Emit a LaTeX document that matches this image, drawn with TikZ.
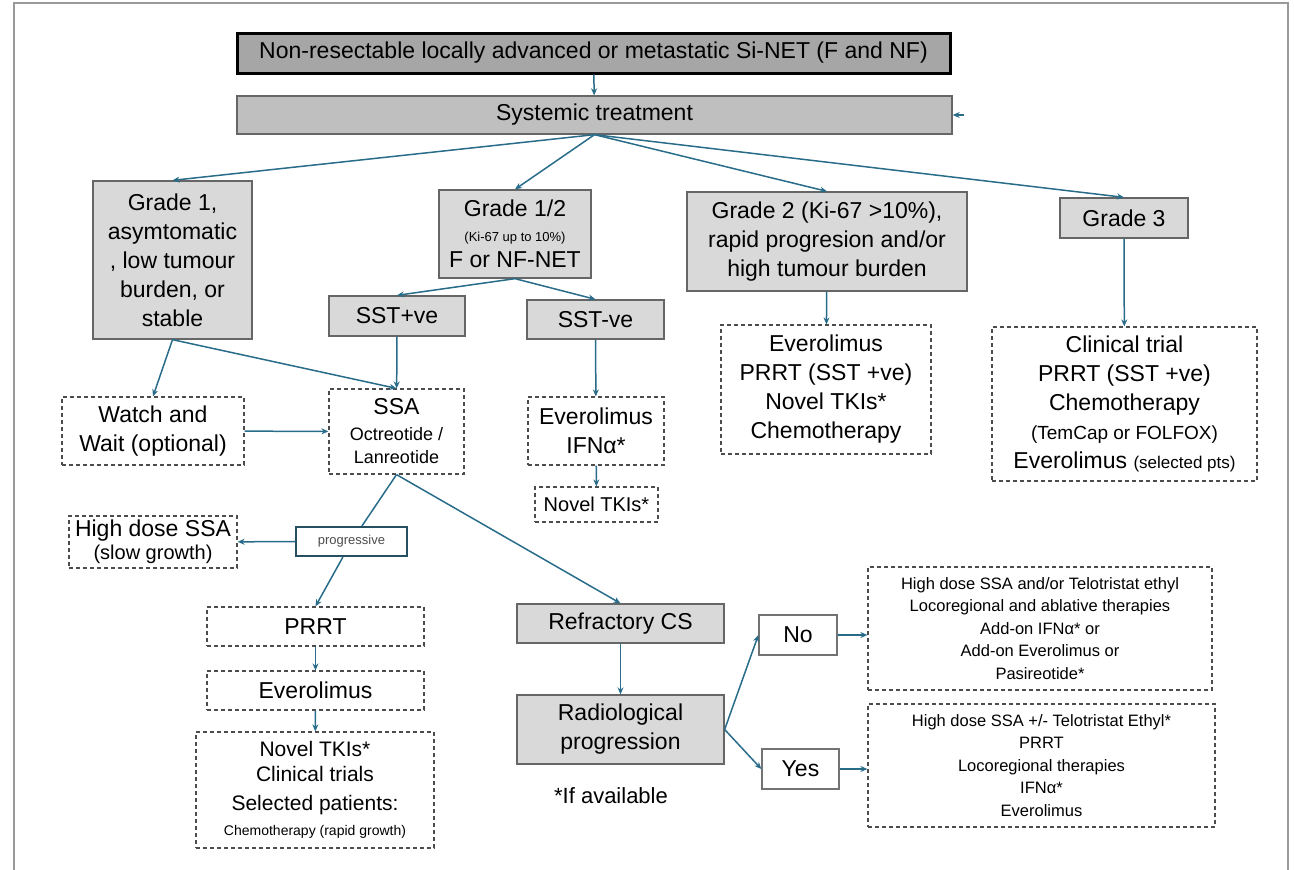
\documentclass[tikz,border=0pt]{standalone}
\usepackage{fontspec}
\setmainfont{Liberation Sans}
\usetikzlibrary{arrows.meta}
\definecolor{arrowteal}{RGB}{40,108,138}
\definecolor{progteal}{RGB}{38,80,96}
\newcommand{\fsz}[2]{\fontsize{#1}{#2}\selectfont}
\begin{document}
\begin{tikzpicture}[x=1pt,y=-1pt,>={Stealth[length=7pt,width=6pt]}]
	\tikzstyle{greybox}=[draw=black!60,fill=black!15,line width=1.3pt,align=center,inner sep=0pt,font=\fsz{23}{29}]
	\tikzstyle{dashbox}=[draw=black!70,dashed,dash pattern=on 4pt off 3pt,line width=1.2pt,align=center,inner sep=0pt,font=\fsz{23}{29}]
	\tikzstyle{whitebox}=[draw=black!55,fill=white,line width=1.3pt,align=center,inner sep=0pt,font=\fsz{23}{29}]
	\tikzstyle{edge}=[draw=arrowteal,line width=1.5pt,->]
	\tikzstyle{line}=[draw=arrowteal,line width=1.5pt]

	\useasboundingbox (0,0) rectangle (1294,870);
	% frame
	\draw[black!40,line width=2pt] (14,875) -- (14,3) -- (1288,3) -- (1288,875);

	\begin{scope}
	\node [greybox,draw=black,line width=3pt,fill=black!35,minimum width=713pt,minimum height=40pt] (top) at (593.5,53) {Non-resectable locally advanced or metastatic Si-NET (F and NF)};
	\node [greybox,fill=black!25,minimum width=715pt,minimum height=38pt] (sys) at (594.5,115) {Systemic treatment};
	\coordinate (stub) at (964,115);

	\node [greybox,minimum width=159pt,minimum height=158pt] (g1) at (172.5,260) {Grade 1,\\asymtomatic\\, low tumour\\burden, or\\stable};
	\node [greybox,minimum width=152pt,minimum height=88pt] (g12) at (515,234) {Grade 1/2\\[-4pt]{\fsz{13}{16}(Ki-67 up to 10\%)}\\[-3pt]F or NF-NET};
	\node [greybox,minimum width=280pt,minimum height=99pt] (g2) at (827,241.5) {Grade 2 (Ki-67 >10\%),\\rapid progresion and/or\\high tumour burden};
	\node [greybox,minimum width=128pt,minimum height=40pt] (g3) at (1124,218) {Grade 3};

	\node [greybox,minimum width=136pt,minimum height=40pt] (sstp) at (397,316) {SST+ve};
	\node [greybox,minimum width=137pt,minimum height=39pt] (sstn) at (595.5,319.5) {SST-ve};

	\node [dashbox,minimum width=210pt,minimum height=129pt] (g2tx) at (826,389.5) {Everolimus\\PRRT (SST +ve)\\Novel TKIs*\\Chemotherapy};
	\node [dashbox,minimum width=265pt,minimum height=154pt] (g3tx) at (1124.5,404) {Clinical trial\\PRRT (SST +ve)\\Chemotherapy\\\fsz{19}{29}(TemCap or FOLFOX)\\\fsz{23}{29}Everolimus \fsz{17}{29}(selected pts)};

	\node [dashbox,minimum width=182pt,minimum height=68pt] (watch) at (153,431) {Watch and\\Wait (optional)};
	\node [dashbox,minimum width=135pt,minimum height=85pt] (ssa) at (396.5,431.5) {SSA\\[-3pt]\fsz{18}{22}Octreotide /\\[-6pt]\fsz{18}{22}Lanreotide};
	\node [dashbox,minimum width=136pt,minimum height=68pt] (evif) at (596,431) {Everolimus\\IFNα*};
	\node [dashbox,minimum width=123pt,minimum height=35pt,font=\fsz{20}{24}] (tki1) at (596.5,504.5) {Novel TKIs*};

	\node [dashbox,minimum width=168pt,minimum height=52pt] (hdssa) at (153,542) {High dose SSA\\[-6pt]\fsz{20}{22}(slow growth)};
	\node [whitebox,draw=progteal,line width=2pt,minimum width=111pt,minimum height=29pt,font=\fsz{13}{16},text=black!70] (prog) at (351.5,541.5) {progressive};
	\node [dashbox,minimum width=217pt,minimum height=39pt] (prrt) at (315.5,626.5) {PRRT};
	\node [dashbox,minimum width=217pt,minimum height=39pt] (evero) at (315.5,690.5) {Everolimus};
	\node [dashbox,minimum width=238pt,minimum height=116pt,font=\fsz{21}{25}] (tki2) at (315,790) {Novel TKIs*\\Clinical trials\\[4pt]Selected patients:\\\fsz{14}{22}Chemotherapy (rapid growth)};

	\node [greybox,minimum width=207pt,minimum height=39pt] (refr) at (620.5,623.5) {Refractory CS};
	\node [greybox,minimum width=207pt,minimum height=69pt] (radio) at (620.5,729.5) {Radiological\\progression};
	\node [font=\fsz{22}{26}] (avail) at (611,796) {*If available};

	\node [whitebox,minimum width=78pt,minimum height=40pt] (no) at (798,635) {No};
	\node [whitebox,minimum width=77pt,minimum height=40pt] (yes) at (800.5,769) {Yes};
	\node [dashbox,minimum width=344pt,minimum height=123pt,font=\fsz{16.5}{22.5}] (nobox) at (1040,628.5) {High dose SSA and/or Telotristat ethyl\\Locoregional and ablative therapies\\Add-on IFNα* or\\Add-on Everolimus or\\Pasireotide*};
	\node [dashbox,minimum width=347pt,minimum height=123pt,font=\fsz{16.5}{22.5}] (yesbox) at (1041.5,765.5) {High dose SSA +/- Telotristat Ethyl*\\PRRT\\Locoregional therapies\\IFNα*\\Everolimus};

	\path[edge] (top) -- (sys);
	\path[edge] (stub) -- (sys.east);
	\path[edge] (sys.south) -- (g1.north);
	\path[edge] (sys.south) -- (g12.north);
	\path[edge] (sys.south) -- (g2.north);
	\path[edge] (sys.south) -- (g3.north);

	\path[edge] (g12.south) -- (sstp.north);
	\path[edge] (g12.south) -- (sstn.north);
	\path[edge] (g1.south) -- (watch.north);
	\path[edge] (g1.south) -- (ssa.north);
	\path[edge] (sstp) -- (ssa);
	\path[edge] (watch) -- (ssa);
	\path[edge] (sstn) -- (evif);
	\path[edge] (evif) -- (tki1);
	\path[edge] (g2) -- (g2tx);
	\path[edge] (g3) -- (g3tx);

	\path[line] (ssa.south) -- (prog);
	\path[edge] (prog) -- (prrt.north);
	\path[edge] (prog) -- (hdssa);
	\path[edge] (prrt) -- (evero);
	\path[edge] (evero) -- (tki2);
	\path[edge] (ssa.south) -- (refr.north);
	\path[edge] (refr) -- (radio);

	\path[edge] (radio.east) -- (no.west);
	\path[edge] (radio.east) -- (yes.west);
	\path[edge] (no.east) -- (no.east -| nobox.west);
	\path[edge] (yes.east) -- (yes.east -| yesbox.west);
	\end{scope}
\end{tikzpicture}
\end{document}
